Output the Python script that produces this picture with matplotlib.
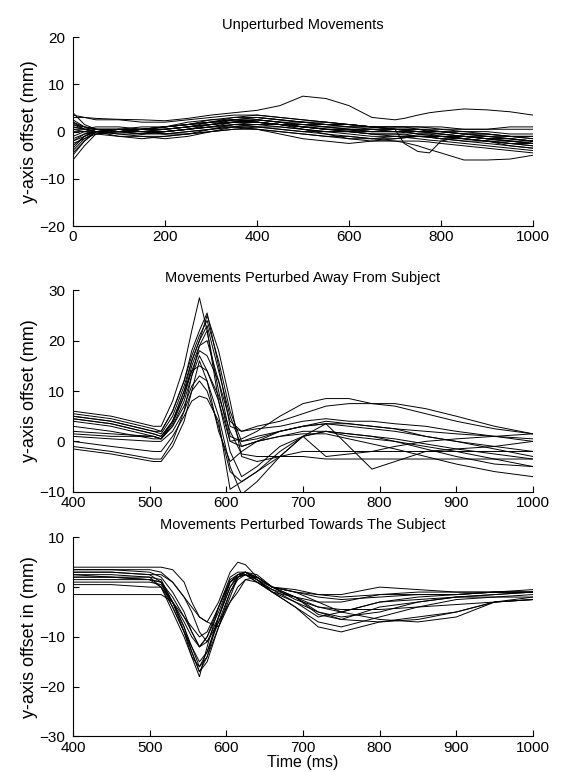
import matplotlib
matplotlib.use("Agg")
import matplotlib.pyplot as plt

plt.rcParams['font.family'] = ['Liberation Sans', 'DejaVu Sans']

# ---- panel 1: unperturbed movements ----
t_unpert = [0, 25, 50, 100, 150, 200, 250, 300, 350, 400, 450, 500,
            550, 600, 650, 700, 720, 750, 775, 800, 850, 900, 950, 1000]
unpert = [
    [3.5, 3, 2.8, 2.6, 2.5, 2.3, 2.8, 3.5, 4, 4.5, 5.5, 7.5, 7, 5.5, 3, 2.5, 2.8, 3.5, 4, 4.3, 4.8, 4.6, 4.2, 3.5],
    [2, 0.5, 0, 0, 0.5, 1, 1.5, 2, 2.5, 2, 1.5, 1, 0.5, 0.3, 0, 0.5, -2.5, -4.2, -4.5, -2, -1, -1.5, -2, -2.5],
    [-2, -1, 0, 0, -0.5, -0.5, 0, 0.5, 1, 0.5, 0, -0.5, -1, -1, -1.5, -2, -2.3, -3, -3.8, -4.5, -6, -6, -5.8, -5],
    [1, 0.5, 0, -1, -1.5, -1, -0.5, 0.5, 1.5, 2, 1.5, 1, 0.5, 0, -0.5, -1, -1.2, -1.5, -1.8, -2, -2.5, -3, -3.5, -4],
    [-5, -2, 0, 0.5, 0.5, 1, 1.5, 2, 2.5, 3, 2.5, 2, 1.5, 1.5, 1, 0.5, 0.3, 0, -0.2, -0.5, -1, -1.5, -2, -2.5],
    [-6, -3, -0.5, 0, 0, -0.5, 0, 0.5, 1, 1, 0.5, 0, -0.5, -1, -1.5, -1.5, -1.3, -1, -1, -1, -1.5, -2, -2.5, -3],
    [4, 1.5, 0.5, 0, 0.5, 1, 1.5, 2.5, 3, 3, 2.5, 2, 1.5, 1, 1, 1, 1, 1, 0.8, 0.5, 0.5, 0.5, 1, 1],
    [0, 0, 0, -0.5, -1, -1.5, -1, 0, 1, 1.5, 1.5, 1, 0.5, 0.5, 0, 0, -0.2, -0.5, -0.8, -1, -1, -1.5, -1.5, -2],
    [-3, -1, 0, 0, 0, 0.5, 1, 1.5, 2, 2, 1.5, 0.5, -0.5, -1.5, -2, -2, -2, -2, -2.2, -2.5, -3, -3.5, -4, -4.5],
    [2.5, 1, 0.5, 0.5, 0, 0, 0.5, 1, 2, 2.5, 2, 1.5, 1, 1, 0.5, 0.5, 0.3, 0, 0, 0, -0.5, -0.5, -1, -1.5],
    [-1, 0, 0.5, 0, -0.5, 0, 0.5, 1, 1.5, 1, 0.5, 0, 0, 0, 0, 0, 0, 0, -0.2, -0.5, -1, -1, -1.5, -2],
    [1.5, 0.5, 0, 0, 0.5, 1, 2, 2.5, 2.5, 2, 1.5, 1.5, 1.5, 1.5, 1, 1, 1, 1, 1, 1, 0.5, 0.5, 0.5, 0.5],
    [-4, -1.5, 0, 0.5, 0, -0.5, -0.5, 0, 0.5, 0.5, 0, -0.5, -1, -1.5, -1.5, -1, -1, -1, -1.2, -1.5, -2, -2.5, -3, -3.5],
    [0.5, 0.5, 1, 1, 0.5, 0.5, 1, 1.5, 2, 2.5, 2, 1, 0.5, 0, -0.5, -0.5, -0.7, -1, -1.2, -1.5, -2, -2, -2.5, -2.5],
    [-2, -0.5, 0, 0.5, 1, 1, 1.5, 2, 3, 3.5, 3, 2.5, 2, 1.5, 1, 0.5, 0.3, 0, 0, 0, -0.5, -1, -1, -1],
    [3, 3, 2.5, 2.5, 2, 2, 2.5, 3, 3.5, 3.5, 3, 2.5, 2, 1.5, 1, 0.5, 0.5, 0.5, 0.3, 0, -0.5, -1, -1.5, -2],
    [-1.5, -0.5, 0, -0.5, -0.5, 0, 0.5, 1, 1, 0.5, -0.5, -1.5, -2, -2.5, -2, -1.5, -1.3, -1, -1, -1, -1, -1.5, -2, -2],
    [1, 0.5, 0.5, 0, 0, 0.5, 1, 1.5, 2, 2, 1.5, 1, 1, 0.5, 0.5, 0.5, 0.5, 0.5, 0.3, 0, 0, -0.5, -1, -1],
    [-3.5, -1, 0.5, 0.5, 0, 0, 0.5, 1.5, 2, 2.5, 2, 1.5, 1, 0.5, 0.5, 0, 0, -0.5, -0.5, -1, -1.5, -2, -2.5, -3],
    [2, 1, 0.5, 0, -0.5, 0, 0.5, 1, 1.5, 1.5, 1, 0.5, 0, -0.5, -1, -1, -1, -1, -1, -1.5, -1.5, -2, -2, -2.5],
    [-2.5, -1.5, -0.5, 0, 0.5, 0.5, 1, 2, 2.5, 2.5, 2, 2, 1.5, 1, 1, 0.5, 0.5, 0.5, 0, 0, -0.5, -0.5, -1, -1.5],
    [0.5, 0, -0.5, -1, -1, -1, -0.5, 0, 0.5, 1, 1, 0.5, 0, 0, -0.5, -0.5, -0.5, -1, -1, -1, -1.5, -2, -3, -3.5],
    [-4.5, -2, 0, 0, 0.5, 1, 1.5, 2, 2, 2, 1.5, 1, 0.5, 0.5, 0, 0, 0, -0.5, -0.5, -0.5, -1, -1.5, -1.5, -2],
    [1.5, 1, 0.5, 0.5, 0.5, 0.5, 1, 1.5, 2.5, 3, 2.5, 2, 2, 1.5, 1, 1, 1, 0.5, 0.5, 0.5, 0, 0, -0.5, -0.5],
]

# ---- panel 2: perturbed away from subject ----
t_away = [400, 450, 505, 515, 530, 545, 555, 565, 575, 590, 605, 620,
          640, 670, 700, 730, 760, 790, 820, 860, 900, 950, 1000]
away = [
    [6, 5, 3, 3, 8, 15, 22, 28.5, 22, 8, 0, 0.5, 2, 5, 7.5, 8.5, 8.5, 7.5, 7, 5.5, 4, 2.5, 1.5],
    [5.5, 4.5, 2.5, 2, 6, 12, 18, 22, 25.5, 15, 3, 2, 3, 4, 5.5, 7, 7.5, 7.5, 7.5, 6.5, 5, 3, 1.5],
    [5, 4, 2, 1.5, 5, 11, 16, 20, 25, 18, 8, -3, -4, -3, -2, -2, -2, -2, -2, -2, -2, -2, -2],
    [4.5, 3.5, 1.5, 1, 4, 9, 14, 18, 17, 12, 4, 2, 2.5, 3, 4, 4.5, 4, 4, 3.5, 3, 2, 1, 0],
    [4, 3, 1, 0.5, 3, 8, 13, 17, 14, 8, -2, -7, -5, -1, 1, 2, 1.5, 1, 0.5, -0.5, -1.5, -2.5, -3.5],
    [3, 2, 0.5, 0.5, 3.5, 9, 15, 19, 20, 12, 1, 0, 0.5, 2, 3, 3.5, 3, 2.5, 2, 1, 0, -1.5, -3],
    [2, 1.5, 1, 0.5, 4, 10, 14, 15, 14, 9, 2, -2.5, -3, -3, -3, -3.5, -3.5, -3.5, -3.5, -3.5, -3.5, -3.5, -3.5],
    [1.5, 1, 1, 0.5, 3, 7, 11, 13, 12, 5, -5, -10.5, -8, -3, 1, 3.5, -1, -5.5, -4, -2, -1.5, -1, 0],
    [1, 0.5, 0, 0, 2, 6, 10, 12, 10, 3, -6, -8, -6, -2, 1, 2, 1, 0.5, 0, -1, -2, -3.5, -5],
    [0, -1, -2, -2, 1, 5, 8, 9, 8.5, 4, -9.5, -8, -6, -3, 1, -3, -2.5, -2, -1, 0, 0.5, 1, 1.5],
    [-1.5, -2.5, -4, -4, -1, 4, 10, 16, 12, 2, -4, -2, 0, 2, 3, 4, 3.5, 3, 2.5, 1, 0, -1, -2],
    [-1, -2, -3.5, -3.5, 0, 6, 13, 19, 22, 10, 0, -1, 0, 1, 2, 2, 1.5, 1, 0, -1.5, -3, -4.5, -5],
    [4.5, 3.5, 1.5, 1, 4, 10, 16, 20, 23, 14, 5, -1, 0, 1, 1.5, 1.5, 0.5, -0.5, -1.5, -3, -4.5, -6, -7],
    [5, 4, 2, 2, 6, 12, 17, 21, 24, 16, 6, 0, 1, 2, 3, 3.5, 3.5, 3, 2.5, 2, 1.5, 1, 0.5],
]

# ---- panel 3: perturbed towards the subject ----
t_towards = [400, 450, 500, 515, 530, 545, 555, 565, 575, 590, 605, 615,
             625, 640, 660, 690, 720, 750, 800, 850, 900, 950, 1000]
towards = [
    [4, 4, 4, 4, 3.5, 1, -3, -6, -7, -3, 3, 5, 4.5, 2, 0, -0.5, -1.5, -1.5, 0, -0.5, -1, -1, -1],
    [3.5, 3.5, 3.5, 3, 1, -2, -5, -9, -11, -6, 0, 2.5, 3, 2, 0, -1, -2, -2.5, -2, -1.5, -1.5, -1, -1],
    [3, 3, 2.5, 1, -4, -9, -13, -17, -14, -6, 1, 2.5, 3, 1.5, -1, -3, -5, -6.5, -7, -6, -5, -3, -2],
    [2.5, 2.5, 2, 0, -5, -10, -14, -18, -12, -4, 1.5, 2.5, 2.5, 1, -1, -4, -7, -8, -6, -4, -2.5, -2, -1.5],
    [2, 2, 1.5, 0, -4, -9, -12, -15, -13, -7, -1, 2, 3, 2, 0, -2, -5, -6, -5, -3, -2, -1.5, -1],
    [1.5, 1.5, 1.5, 1, -3, -7, -10, -12, -10, -5, 1, 2.5, 3, 1.5, -0.5, -3, -6, -5, -3, -2.5, -2, -1.5, -1],
    [1, 1, 1, 0.5, -3, -8, -13, -17, -15, -8, -2, 2, 3, 2.5, 0, -2.5, -4, -4.5, -4.5, -4, -3.5, -3, -2.5],
    [0.5, 0.5, 0, 0, -3, -9, -14, -16, -13, -6, 0, 2, 2.5, 1.5, -1, -4, -8, -9, -7, -6.5, -5, -3, -2.5],
    [-1.5, -1.5, -1.5, -1.5, -3, -6, -9, -12, -11, -7, -3, -1, 1.5, 2, 0, -2, -5.5, -6.5, -4, -3, -2, -2, -2],
    [3.5, 3.5, 3, 2, -1, -5, -9, -12, -10, -4, 2, 3, 3, 1.5, 0, -1, -3, -5, -3, -2, -1.5, -1, -0.5],
    [2.5, 2, 1.5, 1, -2, -6, -8, -10, -9, -4, 1, 2, 2.5, 1, -1, -2, -3, -3, -1.5, -1.5, -1.5, -1, -1],
    [3, 3, 2.5, 2.5, 1, -2, -4, -6, -7, -8, -3, 0, 1.5, 1, -0.5, -2, -4, -5, -6.5, -7, -6, -3, -2.5],
    [2, 2, 2, 1.5, -3, -8, -12, -16, -14, -8, -1, 1.5, 2.5, 2, 0, -1, -1.5, -2, -1.5, -1, -1, -1, -1],
]

fig = plt.figure(figsize=(5.61, 7.72), dpi=100)

panels = [
    ([0.130, 0.707, 0.820, 0.245], t_unpert, unpert, "Unperturbed Movements",
     "y-axis offset (mm)", (0, 1000), (-20, 20), [0, 200, 400, 600, 800, 1000], [-20, -10, 0, 10, 20]),
    ([0.130, 0.363, 0.820, 0.261], t_away, away, "Movements Perturbed Away From Subject",
     "y-axis offset (mm)", (400, 1000), (-10, 30), [400, 500, 600, 700, 800, 900, 1000], [-10, 0, 10, 20, 30]),
    ([0.130, 0.046, 0.820, 0.258], t_towards, towards, "Movements Perturbed Towards The Subject",
     "y-axis offset in (mm)", (400, 1000), (-30, 10), [400, 500, 600, 700, 800, 900, 1000], [-30, -20, -10, 0, 10]),
]

for rect, t, traces, title, ylabel, xlim, ylim, xt, yt in panels:
    ax = fig.add_axes(rect)
    for y in traces:
        ax.plot(t, y, color="black", linewidth=0.7)
    ax.set_xlim(*xlim)
    ax.set_ylim(*ylim)
    ax.set_xticks(xt)
    ax.set_yticks(yt)
    ax.spines["top"].set_visible(False)
    ax.spines["right"].set_visible(False)
    ax.tick_params(direction="in", length=4, labelsize=11)
    ax.tick_params(axis="x", pad=3)
    ax.tick_params(axis="y", pad=5.5)
    ax.set_title(title, fontsize=10.5, pad=6)
    ax.set_ylabel(ylabel, fontsize=13, labelpad=1)

ax.set_xlabel("Time (ms)", fontsize=11.5, labelpad=0)

fig.savefig("out.png", dpi=100)
